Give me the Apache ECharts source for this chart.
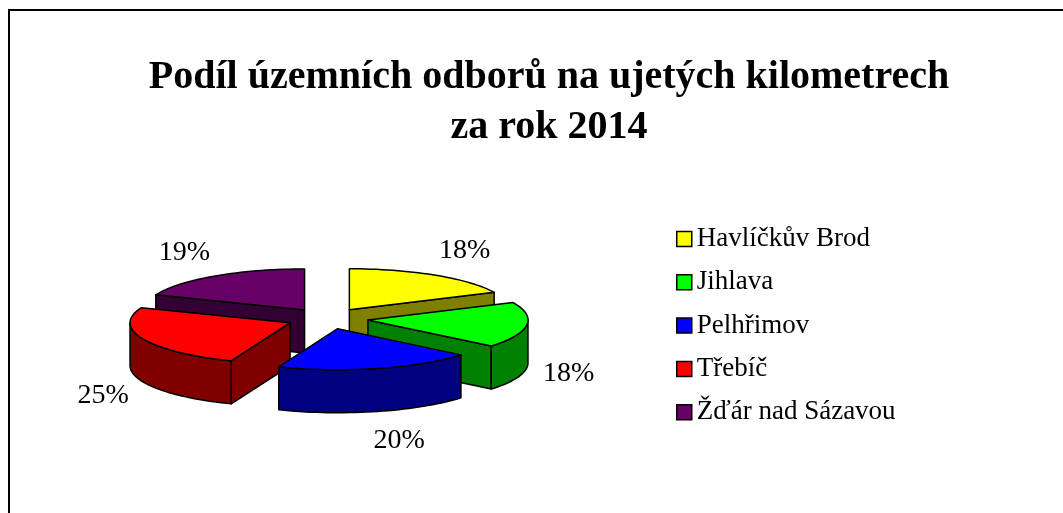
<!DOCTYPE html>
<html>
<head>
<meta charset="utf-8">
<script src="https://cdn.jsdelivr.net/npm/echarts@6/dist/echarts.min.js"></script>
<style>
  html, body { margin: 0; padding: 0; background: #fff; }
  #chart { width: 1063px; height: 513px; }
</style>
</head>
<body>
<div id="chart"></div>
<script>
const regions = ["Havlíčkův Brod", "Jihlava", "Pelhřimov", "Třebíč", "Žďár nad Sázavou"]
const shares = [18, 18, 20, 25, 19]
const topColors = ["#FFFF00", "#00FF00", "#0000FF", "#FF0000", "#660066"]
const sideColors = ["#808000", "#008000", "#000080", "#800000", "#330033"]

// geometrie 3D kolace
const cx = 327.5, cy = 318.6, rx = 160, ry = 41, depth = 43, explode = 40.8

const total = shares.reduce((a, b) => a + b, 0)
const starts = []
let acc = 0
shares.forEach(v => { starts.push(acc / total * 360); acc += v })

const rad = d => d * Math.PI / 180

// uhel po smeru hodin od 12 hodin
function pt(ox, oy, a, r, dz) {
  return [ox + r * Math.sin(rad(a)), oy - r * ry / rx * Math.cos(rad(a)) + dz]
}

function arc(ox, oy, a0, a1, dz) {
  const pts = []
  const n = Math.max(2, Math.ceil((a1 - a0) / 2))
  for (let i = 0; i <= n; i++) pts.push(pt(ox, oy, a0 + (a1 - a0) * i / n, rx, dz))
  return pts
}

const lineStyle = { stroke: "#000", lineWidth: 1.5, lineJoin: "round" }

function renderSlice(params, api) {
  const i = params.seriesIndex
  const value = api.value(0)
  const a0 = starts[i]
  const a1 = a0 + value / total * 360
  const mid = (a0 + a1) / 2
  const [ox, oy] = pt(cx, cy, mid, explode, 0)
  const tip = [ox, oy]
  const tipB = [ox, oy + depth]
  const children = []

  const face = (a) => {
    const p = pt(ox, oy, a, rx, 0)
    const q = pt(ox, oy, a, rx, depth)
    return { type: "polygon", z2: 0, shape: { points: [tip, p, q, tipB] },
      style: Object.assign({ fill: sideColors[i] }, lineStyle) }
  }
  if (Math.sin(rad(a0)) < -1e-6) children.push(face(a0))
  if (Math.sin(rad(a1)) > 1e-6) children.push(face(a1))

  const s = Math.max(a0, 90), e = Math.min(a1, 270)
  if (s < e) {
    const pts = arc(ox, oy, s, e, 0).concat(arc(ox, oy, s, e, depth).reverse())
    children.push({ type: "polygon", z2: 0, shape: { points: pts },
      style: Object.assign({ fill: sideColors[i] }, lineStyle) })
  }

  children.push({ type: "polygon", z2: 1, shape: { points: [tip].concat(arc(ox, oy, a0, a1, 0)) },
    style: Object.assign({ fill: topColors[i] }, lineStyle) })

  const sm = Math.sin(rad(mid)), cm = Math.cos(rad(mid))
  children.push({
    type: "text", z2: 2,
    x: cx + 228 * sm + 15 * Math.sign(sm),
    y: cy - 80 * cm + (cm < 0 ? depth + 2 : 0),
    style: {
      text: Math.round(value / total * 100) + "%",
      fill: "#000", font: "28px 'Liberation Serif'",
      align: "center", verticalAlign: "middle"
    }
  })
  return { type: "group", children }
}

// poradi kresleni: zadni dily driv
const depthRank = shares.map((v, i) => {
  const mid = starts[i] + v / total * 180
  return { i, c: Math.cos(rad(mid)) }
}).sort((a, b) => b.c - a.c).reduce((r, o, k) => { r[o.i] = k; return r }, {})

const option = {
  animation: false,
  title: {
    text: "Podíl územních odborů na ujetých kilometrech\nza rok 2014",
    left: 544,
    top: 48,
    textAlign: "center",
    textStyle: {
      fontFamily: "Liberation Serif",
      fontWeight: "bold",
      fontSize: 40,
      lineHeight: 50,
      color: "#000"
    }
  },
  legend: {
    data: regions,
    orient: "vertical",
    left: 671,
    top: 219,
    itemWidth: 15,
    itemHeight: 15,
    itemGap: 13.3,
    icon: "rect",
    itemStyle: { borderColor: "#000", borderWidth: 1.5 },
    textStyle: { fontFamily: "Liberation Serif", fontSize: 27, lineHeight: 30, color: "#000" }
  },
  graphic: [{
    type: "rect",
    shape: { x: 9, y: 10, width: 1200, height: 800 },
    style: { fill: "none", stroke: "#000", lineWidth: 2 }
  }],
  series: regions.map((name, i) => ({
    type: "custom",
    name,
    coordinateSystem: "none",
    z: 2 + depthRank[i],
    itemStyle: { color: topColors[i] },
    renderItem: renderSlice,
    data: [shares[i]]
  }))
}

const myChart = echarts.init(document.getElementById("chart"))
myChart.setOption(option)
window.addEventListener("resize", () => myChart.resize())
</script>
</body>
</html>
